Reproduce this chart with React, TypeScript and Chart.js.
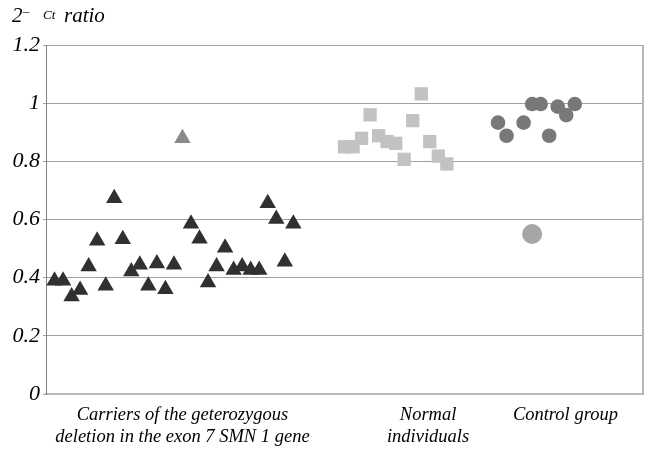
import React, { useEffect, useRef } from "react";
import { Chart, registerables } from "chart.js";

Chart.register(...registerables);

// Carriers of the heterozygous deletion (triangles)
const carrierX = [1, 2, 3, 4, 5, 6, 7, 8, 9, 10, 11, 12, 13, 14, 15, 16, 17, 18, 19, 20, 21, 22, 23, 24, 25, 26, 27, 28, 29];
const carrierY = [0.389, 0.389, 0.335, 0.358, 0.438, 0.527, 0.372, 0.673, 0.532, 0.421, 0.444, 0.372, 0.449, 0.36, 0.444, 0.879, 0.585, 0.534, 0.383, 0.438, 0.503, 0.426, 0.438, 0.426, 0.426, 0.656, 0.602, 0.455, 0.585];
const carrierOutlierX = [16];

// Normal individuals (squares)
const normalX = [35, 36, 37, 38, 39, 40, 41, 42, 43, 44, 45, 46, 47];
const normalY = [0.85, 0.85, 0.879, 0.96, 0.888, 0.868, 0.862, 0.807, 0.94, 1.032, 0.868, 0.818, 0.791];

// Control group (circles)
const controlX = [53, 54, 56, 57, 58, 59, 60, 61, 62];
const controlY = [0.933, 0.888, 0.933, 0.997, 0.997, 0.888, 0.988, 0.959, 0.997];
const controlOutlierX = [57];
const controlOutlierY = [0.55];

// Axis labels
const categoryLabels = [
  ["Carriers of the geterozygous", "deletion in the exon 7 SMN 1 gene"],
  ["Normal", "individuals"],
  ["Control group"],
];
const categoryPositions = [16, 44.8, 60.9];
const yMin = 0;
const yMax = 1.2;
const yStep = 0.2;
const xMin = 0;
const xMax = 70;

const FONT = "'Liberation Serif', 'Times New Roman', serif";

const zip = (xs: number[], ys: number[]) => xs.map((x, i) => ({ x, y: ys[i] }));

export default function App() {
  const ref = useRef<HTMLCanvasElement | null>(null);

  useEffect(() => {
    if (!ref.current) return;
    const frame = {
      id: "frame",
      afterDraw(chart: any) {
        const { ctx, chartArea } = chart;
        ctx.save();
        ctx.strokeStyle = "#b8b8b8";
        ctx.lineWidth = 2;
        ctx.beginPath();
        ctx.moveTo(chartArea.right, chartArea.top);
        ctx.lineTo(chartArea.right, chartArea.bottom);
        ctx.stroke();
        ctx.restore();
      },
    };
    const chart = new Chart(ref.current, {
      type: "scatter",
      data: {
        datasets: [
          {
            label: "Carriers",
            data: zip(carrierX, carrierY),
            pointStyle: "triangle",
            pointRadius: 9.5,
            pointBorderWidth: 0,
            pointBackgroundColor: carrierX.map((x) => (carrierOutlierX.includes(x) ? "#8a8a8a" : "#303030")),
            pointBorderColor: "rgba(0,0,0,0)",
          },
          {
            label: "Normal individuals",
            data: zip(normalX, normalY),
            pointStyle: "rect",
            pointRadius: 9.4,
            pointBorderWidth: 0,
            pointBackgroundColor: "#c2c2c2",
            pointBorderColor: "rgba(0,0,0,0)",
          },
          {
            label: "Control group",
            data: zip(controlX, controlY),
            pointStyle: "circle",
            pointRadius: 7.3,
            pointBorderWidth: 0,
            pointBackgroundColor: "#787878",
            pointBorderColor: "rgba(0,0,0,0)",
          },
          {
            label: "Control outlier",
            data: zip(controlOutlierX, controlOutlierY),
            pointStyle: "circle",
            pointRadius: 10,
            pointBorderWidth: 0,
            pointBackgroundColor: "#a6a6a6",
            pointBorderColor: "rgba(0,0,0,0)",
          },
        ],
      },
      options: {
        responsive: false,
        animation: false,
        events: [],
        layout: { padding: { top: 45, right: 6, left: 0, bottom: 0 } },
        plugins: { legend: { display: false }, tooltip: { enabled: false } },
        scales: {
          x: {
            type: "linear",
            min: xMin,
            max: xMax,
            afterFit: (s: any) => {
              s.height = 60;
              s.paddingLeft = 0;
              s.paddingRight = 0;
            },
            afterBuildTicks: (s: any) => {
              s.ticks = categoryPositions.map((v) => ({ value: v }));
            },
            grid: { display: false, drawTicks: false },
            border: { display: true, color: "#b8b8b8", width: 2 },
            ticks: {
              autoSkip: false,
              maxRotation: 0,
              minRotation: 0,
              padding: 11,
              color: "#000",
              font: { family: FONT, size: 18.5, style: "italic", lineHeight: 1.15 },
              callback: (_v: any, i: number) => categoryLabels[i],
            },
          },
          y: {
            min: yMin,
            max: yMax,
            afterFit: (s: any) => {
              s.width = 46;
            },
            grid: { color: "#a0a0a0", lineWidth: 1, tickLength: 3, drawTicks: true },
            border: { display: true, color: "#7f7f7f", width: 1 },
            ticks: {
              stepSize: yStep,
              padding: 3,
              color: "#000",
              font: { family: FONT, size: 22, style: "italic" },
              callback: (v: any) => String(parseFloat(Number(v).toFixed(1))),
            },
          },
        },
      },
      plugins: [frame],
    } as any);
    return () => chart.destroy();
  }, []);

  const base: React.CSSProperties = {
    position: "absolute",
    fontFamily: FONT,
    fontStyle: "italic",
    color: "#000",
    lineHeight: 1,
    whiteSpace: "nowrap",
  };

  return (
    <div style={{ position: "absolute", left: 0, top: 0, width: 653, height: 454, background: "#fff" }}>
      <canvas ref={ref} width={653} height={454} style={{ display: "block", width: 653, height: 454 }} />
      <span style={{ ...base, left: 12, top: 5, fontSize: 21 }}>2</span>
      <span style={{ ...base, left: 23, top: 4, fontSize: 13, fontStyle: "normal" }}>–</span>
      <span style={{ ...base, left: 43, top: 8, fontSize: 13 }}>Ct</span>
      <span style={{ ...base, left: 64, top: 5, fontSize: 21 }}>ratio</span>
    </div>
  );
}
